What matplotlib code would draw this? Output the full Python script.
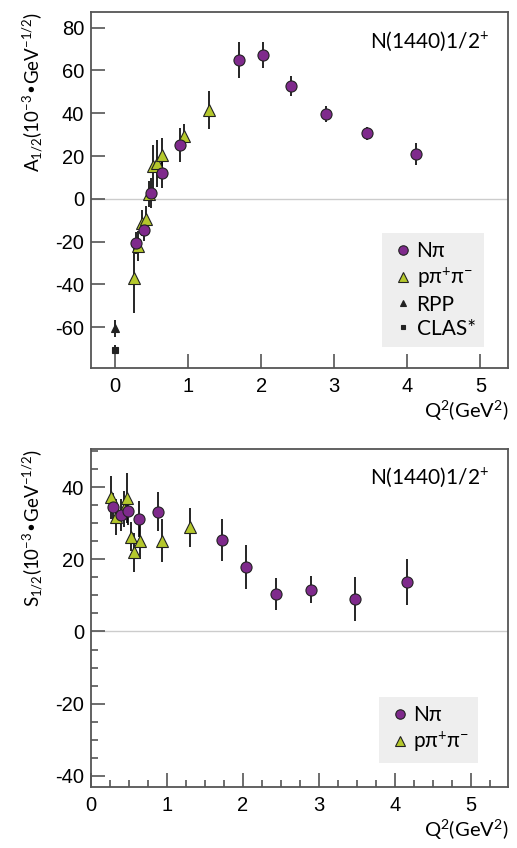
import matplotlib
matplotlib.use("Agg")
import matplotlib.pyplot as plt
from matplotlib.ticker import MultipleLocator

plt.rcParams["mathtext.default"] = "regular"
plt.rcParams["axes.unicode_minus"] = False
plt.rcParams["font.family"] = ["Lato", "DejaVu Sans"]

# top panel: A1/2
q_np = [0.29, 0.39, 0.49, 0.64, 0.89, 1.70, 2.02, 2.41, 2.88, 3.45, 4.12]
a_np = [-20.7, -14.8, 2.6, 12.0, 25.0, 65.0, 67.2, 52.8, 39.6, 30.6, 20.8]
a_np_err = [5, 5, 7, 7, 8, 8.3, 6, 4.7, 3.9, 3.2, 5.2]

q_pp = [0.26, 0.32, 0.37, 0.42, 0.46, 0.52, 0.57, 0.64, 0.94, 1.29]
a_pp = [-37.0, -22.0, -11.4, -9.3, 2.3, 15.1, 16.7, 20.6, 29.2, 41.6]
a_pp_err = [16.5, 7, 6, 6, 6, 10, 11, 8, 6, 9]

q_rpp = [0.0]
a_rpp = [-60.5]
a_rpp_err = [4]
q_clas = [0.0]
a_clas = [-70.5]
a_clas_err = [2]

# bottom panel: S1/2
q_np2 = [0.29, 0.39, 0.49, 0.63, 0.88, 1.72, 2.04, 2.44, 2.90, 3.47, 4.16]
s_np = [34.5, 32.3, 33.5, 31.1, 33.2, 25.4, 17.9, 10.4, 11.6, 8.9, 13.7]
s_np_err = [4, 4.5, 4, 5, 5.4, 5.8, 6, 4.4, 3.8, 6.1, 6.5]

q_pp2 = [0.26, 0.33, 0.44, 0.47, 0.52, 0.57, 0.65, 0.93, 1.30]
s_pp = [37.2, 31.8, 34.0, 37.0, 26.3, 21.9, 25.2, 25.2, 28.9]
s_pp_err = [6, 5, 5, 7, 4, 5.5, 5, 6, 5.4]

purple = "#7f2a8c"
green = "#b5c82c"
frame = "#555555"
tickfont = ["Liberation Sans", "DejaVu Sans"]

fig = plt.figure(figsize=(5.17, 8.48), dpi=100)
ax1 = fig.add_axes([0.176, 0.5664, 0.807, 0.4198])
ax2 = fig.add_axes([0.176, 0.0723, 0.807, 0.398])


def style(ax):
    for s in ax.spines.values():
        s.set_color(frame)
        s.set_linewidth(1.3)
    ax.tick_params(which="both", direction="in", color=frame, width=1.2,
                   labelsize=14.5, pad=5)
    ax.tick_params(which="major", length=10)
    ax.tick_params(which="minor", length=5)
    ax.tick_params(axis="x", pad=7)
    for lab in ax.get_xticklabels() + ax.get_yticklabels():
        lab.set_family(tickfont)
    ax.axhline(0, color="#cccccc", lw=1, zorder=0)


def points(ax, x, y, e, **kw):
    ax.errorbar(x, y, yerr=e, fmt="none", ecolor="black", elinewidth=1.2,
                capsize=0, zorder=2)
    ax.plot(x, y, linestyle="none", markeredgecolor="#222222",
            markeredgewidth=0.8, zorder=3, **kw)


leg_kw = dict(loc="lower left", fontsize=15, facecolor="#eeeeee",
              edgecolor="none", framealpha=1, fancybox=False,
              handletextpad=0.05, handlelength=1.2, labelspacing=0.2,
              borderpad=0.4, borderaxespad=0, markerscale=0.85)

points(ax1, q_pp, a_pp, a_pp_err, marker="^", color=green, markersize=8.5,
       label=r"pπ$^{+}$π$^{-}$")
points(ax1, q_np, a_np, a_np_err, marker="o", color=purple, markersize=8,
       label="Nπ")
points(ax1, q_rpp, a_rpp, a_rpp_err, marker="^", color="#222222",
       markersize=5.5, label="RPP")
points(ax1, q_clas, a_clas, a_clas_err, marker="s", color="#222222",
       markersize=4, label="CLAS*")

ax1.set_xlim(-0.33, 5.38)
ax1.set_ylim(-79, 87.5)
ax1.xaxis.set_major_locator(MultipleLocator(1))
ax1.set_yticks([-60, -40, -20, 0, 20, 40, 60, 80])
style(ax1)
ax1.set_xlabel(r"Q$^{2}$(GeV$^{2}$)", fontsize=14.5, loc="right", labelpad=2)
ax1.set_ylabel(r"A$_{1/2}$(10$^{-3}$•GeV$^{-1/2}$)", fontsize=13.5, loc="top",
               labelpad=7)
ax1.text(0.955, 0.95, r"N(1440)1/2$^{+}$", transform=ax1.transAxes,
         ha="right", va="top", fontsize=15)
h, l = ax1.get_legend_handles_labels()
order = [1, 0, 2, 3]
ax1.legend([h[i] for i in order], [l[i] for i in order],
           bbox_to_anchor=(0.698, 0.058), **leg_kw)

points(ax2, q_pp2, s_pp, s_pp_err, marker="^", color=green, markersize=8.5,
       label=r"pπ$^{+}$π$^{-}$")
points(ax2, q_np2, s_np, s_np_err, marker="o", color=purple, markersize=8,
       label="Nπ")
ax2.set_xlim(0, 5.49)
ax2.set_ylim(-43, 50.5)
ax2.xaxis.set_major_locator(MultipleLocator(1))
ax2.xaxis.set_minor_locator(MultipleLocator(0.25))
ax2.yaxis.set_major_locator(MultipleLocator(20))
ax2.yaxis.set_minor_locator(MultipleLocator(5))
style(ax2)
ax2.set_xlabel(r"Q$^{2}$(GeV$^{2}$)", fontsize=14.5, loc="right", labelpad=2)
ax2.set_ylabel(r"S$_{1/2}$(10$^{-3}$•GeV$^{-1/2}$)", fontsize=13.5, loc="top",
               labelpad=7)
ax2.text(0.955, 0.95, r"N(1440)1/2$^{+}$", transform=ax2.transAxes,
         ha="right", va="top", fontsize=15)
h, l = ax2.get_legend_handles_labels()
ax2.legend([h[1], h[0]], [l[1], l[0]], bbox_to_anchor=(0.69, 0.071),
           **leg_kw)

fig.savefig("out.png", dpi=100)
